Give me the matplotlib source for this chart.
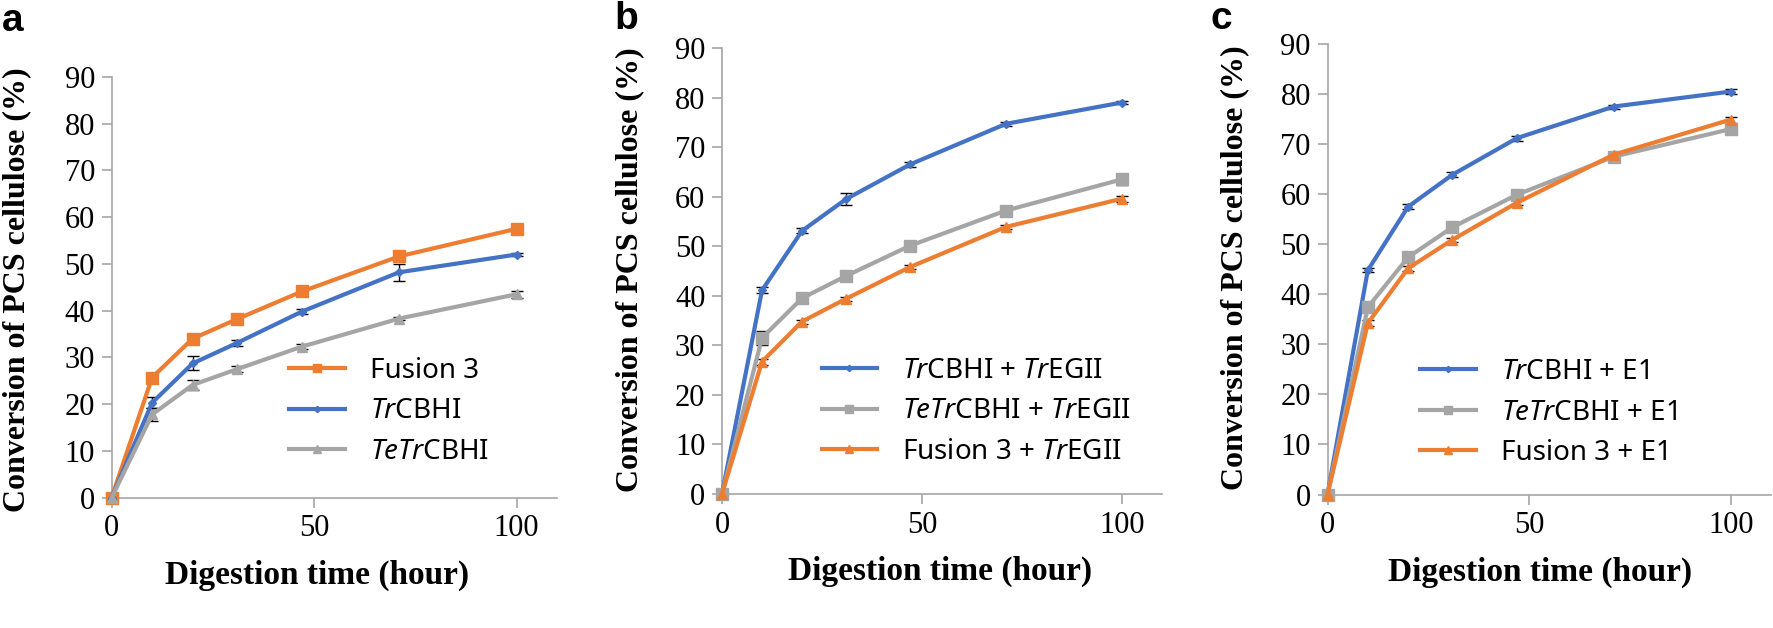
import matplotlib
matplotlib.use("Agg")
import matplotlib.pyplot as plt
from matplotlib.lines import Line2D

plt.rcParams['mathtext.fontset'] = 'custom'
plt.rcParams['mathtext.rm'] = 'Noto Sans'
plt.rcParams['mathtext.it'] = 'Noto Sans:italic'

# ---------------- data ----------------
hours = [0, 10, 20, 31, 47, 71, 100]

# panel a
a_fusion3 = [0, 25.7, 34.0, 38.2, 44.1, 51.6, 57.5]
a_fusion3_err = [0, 1.0, 1.0, 0.6, 0.6, 0.7, 0.5]
a_trcbhi = [0, 20.3, 28.7, 33.1, 39.8, 48.2, 52.0]
a_trcbhi_err = [0, 1.2, 1.5, 0.6, 0.6, 1.8, 0.4]
a_tetrcbhi = [0, 17.8, 24.1, 27.5, 32.3, 38.3, 43.5]
a_tetrcbhi_err = [0, 1.4, 1.0, 0.7, 0.5, 0.4, 0.8]

# panel b
b_trcbhi = [0, 41.1, 53.1, 59.5, 66.5, 74.7, 79.0]
b_trcbhi_err = [0, 0.6, 0.5, 1.2, 0.5, 0.4, 0.3]
b_tetrcbhi = [0, 31.5, 39.5, 44.0, 50.1, 57.2, 63.5]
b_tetrcbhi_err = [0, 1.4, 0.4, 0.4, 0.4, 0.6, 1.1]
b_fusion3 = [0, 26.7, 34.8, 39.4, 45.8, 53.9, 59.6]
b_fusion3_err = [0, 0.6, 0.4, 0.4, 0.4, 0.4, 0.6]

# panel c
c_trcbhi = [0, 44.8, 57.5, 63.9, 71.2, 77.5, 80.5]
c_trcbhi_err = [0, 0.4, 0.5, 0.5, 0.5, 0.4, 0.5]
c_tetrcbhi = [0, 37.4, 47.4, 53.4, 59.9, 67.5, 73.0]
c_tetrcbhi_err = [0, 0.8, 0.5, 0.5, 0.5, 0.6, 0.7]
c_fusion3 = [0, 34.2, 45.2, 50.9, 58.3, 67.9, 74.9]
c_fusion3_err = [0, 0.6, 0.5, 0.4, 0.5, 0.5, 0.6]

yticks = [0, 10, 20, 30, 40, 50, 60, 70, 80, 90]
xticks = [0, 50, 100]

BLUE = '#4472C4'
ORANGE = '#ED7D31'
GRAY = '#A5A5A5'

W, H = 1773, 628
fig = plt.figure(figsize=(W / 100, H / 100), dpi=100)

def px_axes(l, r, b, t):
    return fig.add_axes([l / W, 1 - b / H, (r - l) / W, (b - t) / H])

axa = px_axes(111.6, 557, 497.7, 76.8)
axb = px_axes(722, 1162, 494, 48)
axc = px_axes(1327.5, 1771, 494.5, 44)

LW = 3.0

def series(ax, y, err, color, marker, ms, label, handles):
    ax.errorbar(hours, y, yerr=err, color=color, marker=marker, ms=ms,
                lw=LW, ecolor='black', elinewidth=1.0, capsize=4.5,
                capthick=1.0, clip_on=False, zorder=3)
    handles.append(Line2D([], [], color=color, marker=marker, ms=ms * 0.8,
                          lw=LW, label=label))

ha, hb, hc = [], [], []
series(axa, a_fusion3, a_fusion3_err, ORANGE, 's', 8, 'Fusion 3', ha)
series(axa, a_trcbhi, a_trcbhi_err, BLUE, 'D', 4, r'$\it{Tr}$CBHI', ha)
series(axa, a_tetrcbhi, a_tetrcbhi_err, GRAY, '^', 7, r'$\it{TeTr}$CBHI', ha)

series(axb, b_trcbhi, b_trcbhi_err, BLUE, 'D', 4, r'$\it{Tr}$CBHI + $\it{Tr}$EGII', hb)
series(axb, b_tetrcbhi, b_tetrcbhi_err, GRAY, 's', 8, r'$\it{TeTr}$CBHI + $\it{Tr}$EGII', hb)
series(axb, b_fusion3, b_fusion3_err, ORANGE, '^', 7, r'Fusion 3 + $\it{Tr}$EGII', hb)

series(axc, c_trcbhi, c_trcbhi_err, BLUE, 'D', 4, r'$\it{Tr}$CBHI + E1', hc)
series(axc, c_tetrcbhi, c_tetrcbhi_err, GRAY, 's', 8, r'$\it{TeTr}$CBHI + E1', hc)
series(axc, c_fusion3, c_fusion3_err, ORANGE, '^', 7, r'Fusion 3 + E1', hc)

serif = 'Liberation Serif'
label_pos = {
    'a': dict(y=(17, 290), x=(316.6, 575), tag=(2, 21)),
    'b': dict(y=(630, 270), x=(940, 571), tag=(614, 19)),
    'c': dict(y=(1235, 268), x=(1210, 19)),
}
label_pos['c'] = dict(y=(1235, 268), x=(1540, 572), tag=(1210, 19))
legend_anchor = {'a': (289, 357), 'b': (821.5, 357), 'c': (1420, 358)}
all_handles = {'a': ha, 'b': hb, 'c': hc}

for key, ax in zip('abc', [axa, axb, axc]):
    ax.set_xlim(0, 110)
    ax.set_ylim(0, 90)
    ax.set_yticks(yticks)
    ax.set_xticks(xticks)
    for s in ['top', 'right']:
        ax.spines[s].set_visible(False)
    for s in ['left', 'bottom']:
        ax.spines[s].set_color('#A6A6A6')
        ax.spines[s].set_linewidth(1.2)
    ax.tick_params(direction='out', length=7, width=1.2, color='#A6A6A6',
                   labelsize=22, pad=5)
    for lab in ax.get_xticklabels() + ax.get_yticklabels():
        lab.set_fontfamily(serif)
    ax.set_ylabel('Conversion of PCS cellulose (%)', fontfamily=serif,
                  fontweight='bold', fontsize=23, va='center', ha='center')
    ax.set_xlabel('Digestion time (hour)', fontfamily=serif,
                  fontweight='bold', fontsize=24, va='center', ha='center')
    p = label_pos[key]
    ax.yaxis.set_label_coords(p['y'][0] / W, 1 - p['y'][1] / H, transform=fig.transFigure)
    ax.xaxis.set_label_coords(p['x'][0] / W, 1 - p['x'][1] / H, transform=fig.transFigure)
    fig.text(p['tag'][0] / W, 1 - p['tag'][1] / H, key, fontfamily='Liberation Sans',
             fontweight='bold', fontsize=28, va='center', ha='left')
    lx, ly = legend_anchor[key]
    ax.legend(handles=all_handles[key], loc='upper left',
              bbox_to_anchor=(lx / W, 1 - ly / H),
              bbox_transform=fig.transFigure, frameon=False, borderpad=0,
              borderaxespad=0, handlelength=2.0, handletextpad=0.9,
              labelspacing=0.45,
              prop={'family': 'Noto Sans', 'size': 20})

fig.savefig('out.png', dpi=100)
